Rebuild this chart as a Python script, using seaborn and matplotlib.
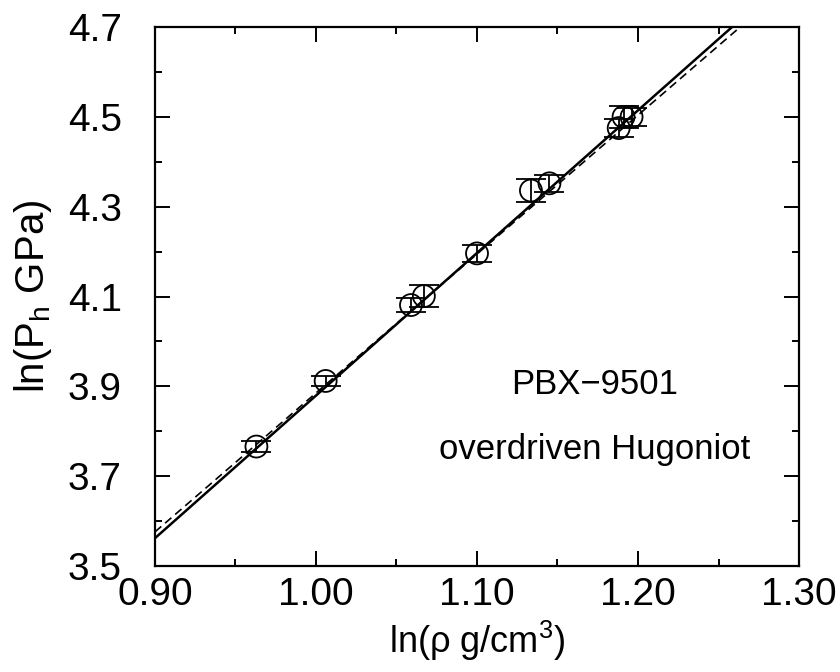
import matplotlib
matplotlib.use("Agg")
import matplotlib.pyplot as plt
import seaborn as sns
import pandas as pd
from matplotlib.ticker import MultipleLocator, FormatStrFormatter

# ---- data ----
ln_rho = [0.963, 1.006, 1.059, 1.067, 1.100, 1.1335, 1.145, 1.188, 1.191, 1.196]
ln_p = [3.766, 3.912, 4.081, 4.101, 4.196, 4.336, 4.352, 4.475, 4.500, 4.500]
ln_p_err = [0.012, 0.012, 0.015, 0.024, 0.019, 0.026, 0.019, 0.020, 0.025, 0.020]

fit_solid_x = [0.90, 1.30]
fit_solid_y = [3.562, 4.832]
fit_dashed_x = [0.90, 1.30]
fit_dashed_y = [3.576, 4.813]

x_ticks = [0.90, 1.00, 1.10, 1.20, 1.30]
y_ticks = [3.5, 3.7, 3.9, 4.1, 4.3, 4.5, 4.7]

sns.set_theme(style="ticks")
plt.rcParams["font.family"] = ["Liberation Sans", "DejaVu Sans"]
plt.rcParams["mathtext.fontset"] = "custom"
plt.rcParams["mathtext.rm"] = "Liberation Sans"
plt.rcParams["mathtext.it"] = "Liberation Sans"
for key in ["text.color", "axes.labelcolor", "xtick.color", "ytick.color", "axes.edgecolor"]:
    plt.rcParams[key] = "black"

fig = plt.figure(figsize=(8.4, 6.72), dpi=100)
ax = fig.add_axes([0.1845, 0.1577, 0.9512 - 0.1845, 0.9598 - 0.1577])

df = pd.DataFrame({"x": ln_rho, "y": ln_p, "err": ln_p_err})
fits = pd.DataFrame({"x": fit_solid_x + fit_dashed_x,
                     "y": fit_solid_y + fit_dashed_y,
                     "fit": ["solid"] * 2 + ["dashed"] * 2})

sns.lineplot(data=fits[fits.fit == "solid"], x="x", y="y", ax=ax,
             color="black", lw=1.8, sort=False)
sns.lineplot(data=fits[fits.fit == "dashed"], x="x", y="y", ax=ax,
             color="black", lw=1.2, linestyle=(0, (5, 3)), sort=False)

ax.errorbar(df.x, df.y, yerr=df.err, fmt="none", ecolor="black",
            elinewidth=1.3, capsize=11, capthick=1.3, zorder=3)
sns.scatterplot(data=df, x="x", y="y", ax=ax, marker="o", s=250,
                facecolor="none", edgecolor="black", linewidth=1.3, zorder=4)

ax.set_xlim(0.90, 1.30)
ax.set_ylim(3.5, 4.7)
ax.set_xticks(x_ticks)
ax.set_yticks(y_ticks)
ax.xaxis.set_minor_locator(MultipleLocator(0.05))
ax.yaxis.set_minor_locator(MultipleLocator(0.1))
ax.xaxis.set_major_formatter(FormatStrFormatter("%.2f"))
ax.yaxis.set_major_formatter(FormatStrFormatter("%.1f"))
ax.tick_params(which="both", direction="in", top=True, right=True, width=1.4)
ax.tick_params(which="major", length=11, labelsize=28)
ax.tick_params(axis="x", which="major", pad=8)
ax.tick_params(axis="y", which="major", pad=24)
ax.tick_params(which="minor", length=5)
for s in ax.spines.values():
    s.set_linewidth(1.6)
    s.set_color("black")

ax.set_xlabel(r"ln($\rho$ g/cm$^3$)", fontsize=26, labelpad=4)
ax.set_ylabel(r"ln(P$_\mathrm{h}$ GPa)", fontsize=29, labelpad=10)

ax.text(1.173, 3.905, "PBX\u22129501", fontsize=25, ha="center", va="center")
ax.text(1.173, 3.76, "overdriven Hugoniot", fontsize=25, ha="center", va="center")

fig.savefig("out.png", dpi=100)
